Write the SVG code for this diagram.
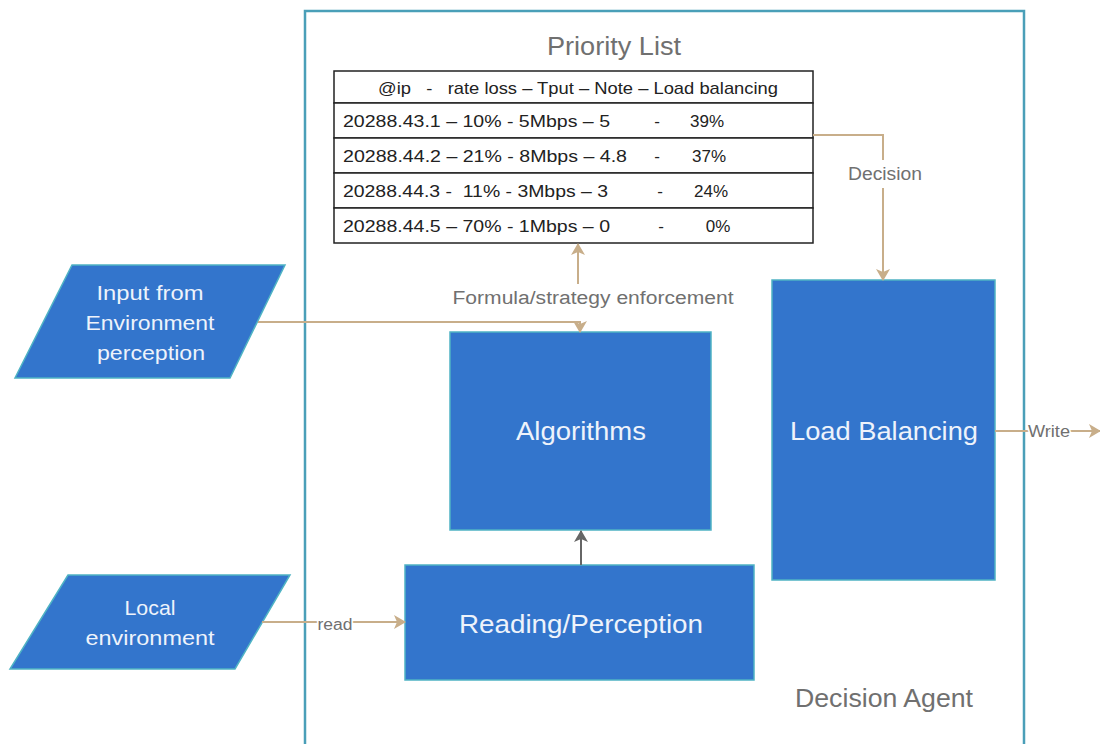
<svg xmlns="http://www.w3.org/2000/svg" width="1100" height="744" viewBox="0 0 1100 744">
<defs>
<style>
.blue{fill:#3375cc;stroke:#4fb3c4;stroke-width:1.5}
.wt{fill:#eef3fb;font-family:"Liberation Sans",Arial,sans-serif;text-anchor:middle}
.gt{fill:#707070;font-family:"Liberation Sans",Arial,sans-serif;text-anchor:middle}
.tt{fill:#222;font-family:"Liberation Sans",Arial,sans-serif;font-size:17px}
.tan{stroke:#c8ae8a;stroke-width:2;fill:none}
.row{fill:#fff;stroke:#222;stroke-width:1.5}
</style>
<marker id="ta" viewBox="0 0 12 14" refX="11" refY="7" markerWidth="12" markerHeight="14" orient="auto" markerUnits="userSpaceOnUse">
<path d="M0,0 L12,7 L0,14 L3,7 z" fill="#c8ae8a"/>
</marker>
<marker id="ga" viewBox="0 0 12 14" refX="11" refY="7" markerWidth="12" markerHeight="14" orient="auto" markerUnits="userSpaceOnUse">
<path d="M0,0 L12,7 L0,14 L3,7 z" fill="#666"/>
</marker>
</defs>
<rect width="1100" height="744" fill="#fff"/>
<g id="agent">
<rect x="305" y="11" width="719" height="760" fill="none" stroke="#4a9fb8" stroke-width="2.5"/>
<text class="gt" x="884" y="707" font-size="26" textLength="178" lengthAdjust="spacingAndGlyphs">Decision Agent</text>
</g>
<g id="priority-list">
<text class="gt" x="614" y="55" font-size="25" textLength="134" lengthAdjust="spacingAndGlyphs">Priority List</text>
<rect class="row" x="334" y="71" width="479" height="32"/>
<rect class="row" x="334" y="103" width="479" height="35"/>
<rect class="row" x="334" y="138" width="479" height="35"/>
<rect class="row" x="334" y="173" width="479" height="35"/>
<rect class="row" x="334" y="208" width="479" height="35"/>
<text class="tt" x="378" y="94" font-size="15" textLength="400" lengthAdjust="spacingAndGlyphs" xml:space="preserve">@ip   -   rate loss – Tput – Note – Load balancing</text>
<text class="tt" x="343" y="127" textLength="267" lengthAdjust="spacingAndGlyphs">20288.43.1 – 10% - 5Mbps – 5</text>
<text class="tt" x="657" y="127" text-anchor="middle">-</text>
<text class="tt" x="707" y="127" text-anchor="middle">39%</text>
<text class="tt" x="343" y="162" textLength="284" lengthAdjust="spacingAndGlyphs">20288.44.2 – 21% - 8Mbps – 4.8</text>
<text class="tt" x="657" y="162" text-anchor="middle">-</text>
<text class="tt" x="709" y="162" text-anchor="middle">37%</text>
<text class="tt" x="343" y="197" textLength="265" lengthAdjust="spacingAndGlyphs" xml:space="preserve">20288.44.3 -  11% - 3Mbps – 3</text>
<text class="tt" x="660" y="197" text-anchor="middle">-</text>
<text class="tt" x="711" y="197" text-anchor="middle">24%</text>
<text class="tt" x="343" y="232" textLength="267" lengthAdjust="spacingAndGlyphs">20288.44.5 – 70% - 1Mbps – 0</text>
<text class="tt" x="661" y="232" text-anchor="middle">-</text>
<text class="tt" x="718" y="232" text-anchor="middle">0%</text>
</g>
<g id="input-env">
<polygon class="blue" points="72,265 285,265 230,378 15,378"/>
<text class="wt" x="150" y="300" font-size="21" textLength="107" lengthAdjust="spacingAndGlyphs">Input from</text>
<text class="wt" x="150" y="330" font-size="21" textLength="129" lengthAdjust="spacingAndGlyphs">Environment</text>
<text class="wt" x="151" y="360" font-size="21" textLength="108" lengthAdjust="spacingAndGlyphs">perception</text>
</g>
<g id="local-env">
<polygon class="blue" points="68,575 290,575 235,669 10,669"/>
<text class="wt" x="150" y="615" font-size="21" textLength="51" lengthAdjust="spacingAndGlyphs">Local</text>
<text class="wt" x="150" y="645" font-size="21" textLength="129" lengthAdjust="spacingAndGlyphs">environment</text>
</g>
<g id="algorithms">
<rect class="blue" x="450" y="332" width="261" height="198"/>
<text class="wt" x="581" y="440" font-size="25" textLength="130" lengthAdjust="spacingAndGlyphs">Algorithms</text>
</g>
<g id="reading">
<rect class="blue" x="405" y="565" width="349" height="115"/>
<text class="wt" x="581" y="633" font-size="25" textLength="244" lengthAdjust="spacingAndGlyphs">Reading/Perception</text>
</g>
<g id="load-balancing">
<rect class="blue" x="772" y="280" width="223" height="300"/>
<text class="wt" x="884" y="440" font-size="26" textLength="188" lengthAdjust="spacingAndGlyphs">Load Balancing</text>
</g>
<g id="connectors">
<path class="tan" d="M813,135 H883 V160"/>
<path class="tan" d="M883,188 V280" marker-end="url(#ta)"/>
<text class="gt" x="885" y="180" font-size="18" textLength="74" lengthAdjust="spacingAndGlyphs">Decision</text>
<path class="tan" d="M578,284 V244" marker-end="url(#ta)"/>
<text class="gt" x="593" y="304" font-size="18" textLength="281" lengthAdjust="spacingAndGlyphs">Formula/strategy enforcement</text>
<path class="tan" d="M258,322 H580 V332" marker-end="url(#ta)"/>
<path class="tan" d="M262,622 H405" marker-end="url(#ta)"/>
<text class="gt" x="335" y="630" font-size="16" textLength="35" lengthAdjust="spacingAndGlyphs" style="paint-order:stroke" stroke="#fff" stroke-width="3">read</text>
<path class="tan" d="M995,431 H1100" marker-end="url(#ta)"/>
<text class="gt" x="1049" y="437" font-size="16" textLength="42" lengthAdjust="spacingAndGlyphs" style="paint-order:stroke" stroke="#fff" stroke-width="3">Write</text>
<path d="M581,565 V531" stroke="#666" stroke-width="2" fill="none" marker-end="url(#ga)"/>
</g>
</svg>
